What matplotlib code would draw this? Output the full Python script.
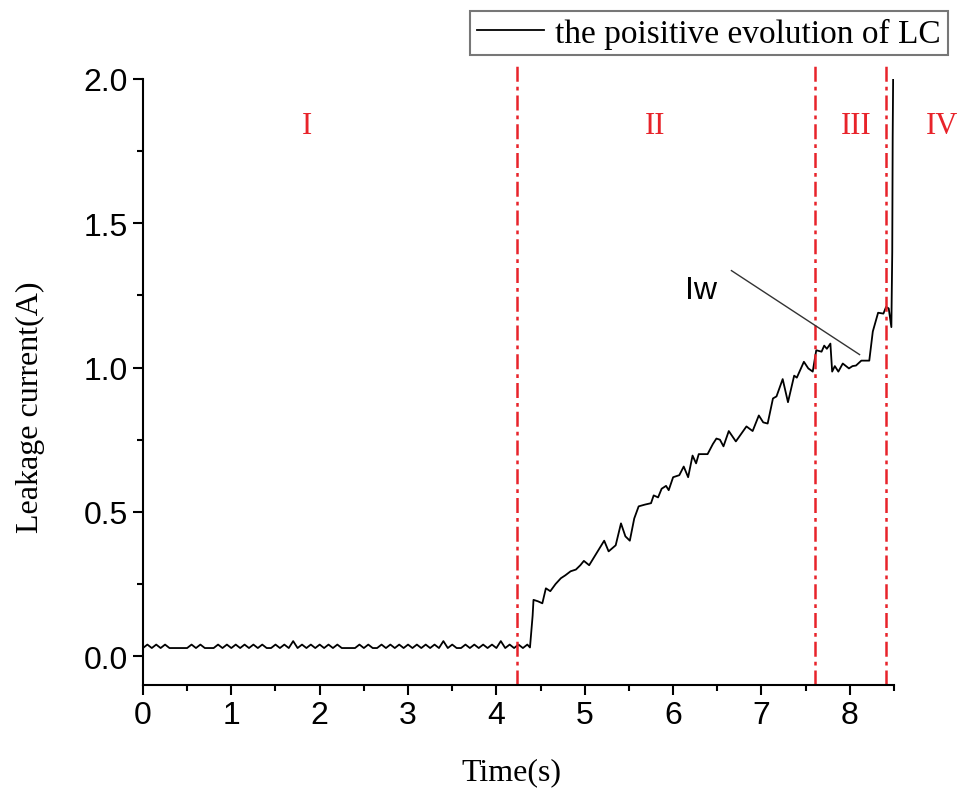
import numpy as np
import matplotlib
matplotlib.use("Agg")
import matplotlib.pyplot as plt
from matplotlib.ticker import MultipleLocator, FormatStrFormatter

# stage I: baseline sampled every 0.05 s
stage1_t = np.round(np.arange(0.0, 4.40, 0.05), 2)
stage1_y = [
    0.028, 0.040, 0.028, 0.040, 0.028, 0.040, 0.028, 0.028, 0.028, 0.028,
    0.028, 0.040, 0.028, 0.040, 0.028, 0.028, 0.028, 0.040, 0.028, 0.040,
    0.028, 0.040, 0.028, 0.040, 0.028, 0.040, 0.028, 0.040, 0.028, 0.028,
    0.040, 0.028, 0.040, 0.028, 0.052, 0.028, 0.040, 0.028, 0.040, 0.028,
    0.040, 0.028, 0.040, 0.028, 0.040, 0.028, 0.028, 0.028, 0.028, 0.040,
    0.028, 0.040, 0.028, 0.028, 0.040, 0.028, 0.040, 0.028, 0.040, 0.028,
    0.040, 0.028, 0.040, 0.028, 0.040, 0.028, 0.040, 0.028, 0.052, 0.028,
    0.040, 0.028, 0.028, 0.040, 0.028, 0.040, 0.028, 0.040, 0.028, 0.040,
    0.028, 0.052, 0.028, 0.040, 0.028, 0.040, 0.028, 0.040,
]

# stages II-IV
rise_t = [4.38, 4.41, 4.42, 4.47, 4.52, 4.56, 4.61, 4.67, 4.73, 4.78, 4.84,
          4.90, 4.95, 4.99, 5.05, 5.12, 5.22, 5.27, 5.35, 5.41, 5.46, 5.51,
          5.56, 5.61, 5.68, 5.75, 5.78, 5.83, 5.87, 5.92, 5.95, 6.00, 6.07,
          6.12, 6.17, 6.22, 6.26, 6.29, 6.39, 6.45, 6.49, 6.53, 6.57, 6.63,
          6.71, 6.77, 6.83, 6.90, 6.97, 7.02, 7.07, 7.13, 7.17, 7.24, 7.30,
          7.37, 7.40, 7.48, 7.53, 7.58, 7.62, 7.68, 7.71, 7.74, 7.78, 7.80,
          7.83, 7.87, 7.92, 7.99, 8.03, 8.07, 8.13, 8.22, 8.26, 8.32, 8.38,
          8.41, 8.44, 8.47, 8.48, 8.485, 8.49]
rise_y = [0.030, 0.140, 0.195, 0.190, 0.183, 0.235, 0.225, 0.250, 0.270, 0.280,
          0.294, 0.300, 0.315, 0.330, 0.315, 0.350, 0.400, 0.363, 0.384, 0.460,
          0.415, 0.400, 0.477, 0.519, 0.525, 0.530, 0.557, 0.550, 0.580, 0.590,
          0.575, 0.620, 0.627, 0.657, 0.620, 0.695, 0.668, 0.700, 0.700, 0.735,
          0.754, 0.750, 0.727, 0.780, 0.744, 0.770, 0.796, 0.780, 0.834, 0.810,
          0.806, 0.893, 0.900, 0.960, 0.880, 0.972, 0.965, 1.020, 0.997, 0.986,
          1.060, 1.055, 1.076, 1.065, 1.083, 0.986, 1.005, 0.986, 1.014, 0.997,
          1.005, 1.007, 1.024, 1.024, 1.125, 1.190, 1.187, 1.210, 1.205, 1.140,
          1.400, 1.800, 2.000]

boundaries = [4.23, 7.61, 8.41]
stage_labels = ["I", "II", "III", "IV"]
stage_label_x = [1.86, 5.80, 8.07, 9.04]

t = np.concatenate([stage1_t, rise_t])
y = np.concatenate([stage1_y, rise_y])

fig = plt.figure(figsize=(9.64, 8.04), dpi=100)
ax = fig.add_axes([0.1483, 0.1468, 0.7791, 0.7537])

ax.plot(t, y, color="black", linewidth=1.3,
        label="the poisitive evolution of LC")

for b in boundaries:
    ax.plot([b, b], [-0.1, 2.045], color="#e8232a", linewidth=1.8,
            linestyle=(0, (6, 2, 1.5, 2)), clip_on=False)

for lab, lx in zip(stage_labels, stage_label_x):
    ax.text(lx, 1.84, lab, color="#e8232a", fontsize=22, ha="center",
            va="center", family="Liberation Serif", clip_on=False)

# Iw marker
ax.plot([6.66, 8.11], [1.336, 1.045], color="#333333", linewidth=1.0)
ax.text(6.32, 1.27, "Iw", fontsize=23, ha="center", va="center",
        family="Liberation Sans")

ax.set_xlim(0, 8.5)
ax.set_ylim(-0.1, 2.0)
ax.xaxis.set_major_locator(MultipleLocator(1))
ax.xaxis.set_minor_locator(MultipleLocator(0.5))
ax.yaxis.set_major_locator(MultipleLocator(0.5))
ax.yaxis.set_minor_locator(MultipleLocator(0.25))
ax.yaxis.set_major_formatter(FormatStrFormatter("%.1f"))

ax.spines["top"].set_visible(False)
ax.spines["right"].set_visible(False)
for s in ["left", "bottom"]:
    ax.spines[s].set_linewidth(1.5)

ax.tick_params(which="major", direction="out", length=7, width=1.5,
               labelsize=23, pad=4)
ax.tick_params(which="minor", direction="out", length=4, width=1.5)
for lbl in ax.get_xticklabels() + ax.get_yticklabels():
    lbl.set_family("Liberation Sans")

ax.set_xlabel("Time(s)", fontsize=23, family="Liberation Serif")
ax.set_ylabel("Leakage current(A)", fontsize=23, family="Liberation Serif")
ax.xaxis.set_label_coords(0.5 - 0.01, -0.12)
ax.yaxis.set_label_coords(-0.13, 0.5 - 0.04)

leg = ax.legend(loc="upper right", bbox_to_anchor=(0.983, 0.985),
                bbox_transform=fig.transFigure, fancybox=False,
                prop={"family": "Liberation Serif", "size": 24},
                handlelength=2.0, borderpad=0.2, borderaxespad=0,
                handletextpad=0.35)
leg.get_frame().set_edgecolor("#555555")
leg.get_frame().set_linewidth(1.5)

fig.savefig("out.png", dpi=100)
